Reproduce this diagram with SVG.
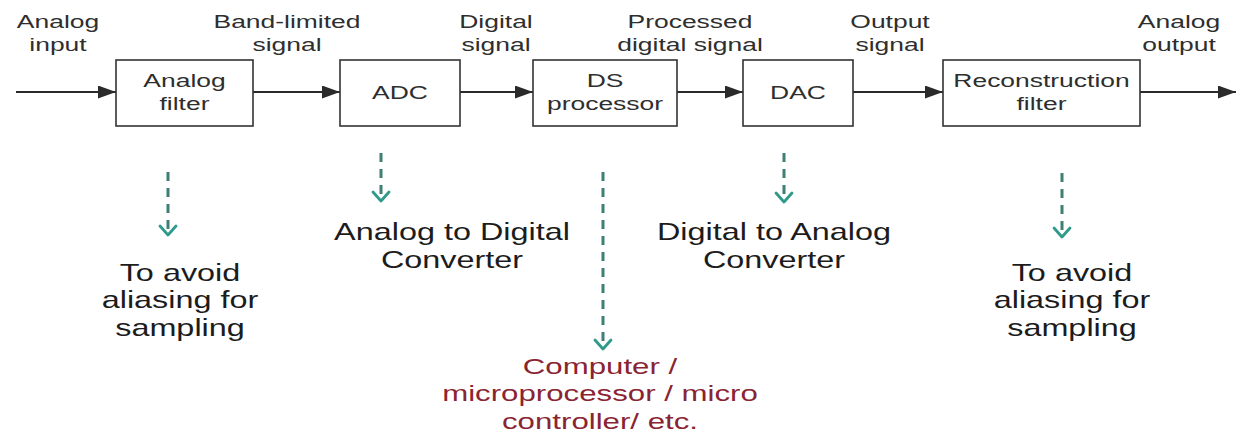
<svg xmlns="http://www.w3.org/2000/svg" width="1238" height="440" viewBox="0 0 1238 440">
<style>
text{font-family:"Liberation Sans",Arial,sans-serif;text-anchor:middle}
.lbl{font-size:18.5px;fill:#2e2e2e}
.big{font-size:24px;fill:#1c1c1c}
.red{font-size:22px;fill:#8a2432}
.box{fill:#fff;stroke:#333;stroke-width:1.6}
.flow{stroke:#2a2a2a;stroke-width:2;fill:none;marker-end:url(#tri)}
.dash{stroke:#3f7f74;stroke-width:3;fill:none;stroke-dasharray:9 7}
.chev{stroke:#2f9a8a;stroke-width:2.8;fill:none;stroke-linecap:round;stroke-linejoin:round}
</style>
<defs>
<marker id="tri" markerUnits="userSpaceOnUse" markerWidth="20" markerHeight="14" refX="18" refY="6.5" orient="auto">
<path d="M0 0 L18 6.5 L0 13 Z" fill="#2a2a2a"/>
</marker>
</defs>
<rect width="1238" height="440" fill="#fff"/>

<g id="connectors">
<line class="flow" x1="16" y1="92" x2="116" y2="92"/>
<line class="flow" x1="253" y1="92" x2="340" y2="92"/>
<line class="flow" x1="460" y1="92" x2="533" y2="92"/>
<line class="flow" x1="677" y1="92" x2="743" y2="92"/>
<line class="flow" x1="853" y1="92" x2="943" y2="92"/>
<line class="flow" x1="1140" y1="92" x2="1236" y2="92"/>
<line class="dash" x1="168" y1="172" x2="168" y2="232"/>
<path class="chev" d="M160 226 L168 235 L176 226"/>
<line class="dash" x1="381" y1="153" x2="381" y2="198"/>
<path class="chev" d="M373 192 L381 201 L389 192"/>
<line class="dash" x1="603" y1="172" x2="603" y2="346"/>
<path class="chev" d="M595 340 L603 349 L611 340"/>
<line class="dash" x1="784" y1="153" x2="784" y2="199"/>
<path class="chev" d="M776 193 L784 202 L792 193"/>
<line class="dash" x1="1062" y1="173" x2="1062" y2="234"/>
<path class="chev" d="M1054 228 L1062 237 L1070 228"/>
</g>

<g id="labels-top">
<text class="lbl" transform="translate(58,28) scale(1.43,1)">Analog<tspan x="0" dy="23">input</tspan></text>
<text class="lbl" transform="translate(287,28) scale(1.43,1)">Band-limited<tspan x="0" dy="23">signal</tspan></text>
<text class="lbl" transform="translate(496,28) scale(1.43,1)">Digital<tspan x="0" dy="23">signal</tspan></text>
<text class="lbl" transform="translate(690,28) scale(1.43,1)">Processed<tspan x="0" dy="23">digital signal</tspan></text>
<text class="lbl" transform="translate(890,28) scale(1.43,1)">Output<tspan x="0" dy="23">signal</tspan></text>
<text class="lbl" transform="translate(1179,28) scale(1.43,1)">Analog<tspan x="0" dy="23">output</tspan></text>
</g>

<g id="node-analog-filter">
<rect class="box" x="116" y="60" width="137" height="66"/>
<text class="lbl" transform="translate(184.5,87) scale(1.43,1)">Analog<tspan x="0" dy="23">filter</tspan></text>
</g>
<g id="node-adc">
<rect class="box" x="340" y="60" width="120" height="66"/>
<text class="lbl" transform="translate(400,99) scale(1.43,1)">ADC</text>
</g>
<g id="node-ds">
<rect class="box" x="533" y="60" width="144" height="66"/>
<text class="lbl" transform="translate(605,87) scale(1.43,1)">DS<tspan x="0" dy="23">processor</tspan></text>
</g>
<g id="node-dac">
<rect class="box" x="743" y="60" width="110" height="66"/>
<text class="lbl" transform="translate(798,99) scale(1.43,1)">DAC</text>
</g>
<g id="node-recon">
<rect class="box" x="943" y="60" width="197" height="66"/>
<text class="lbl" transform="translate(1041.5,87) scale(1.43,1)">Reconstruction<tspan x="0" dy="23">filter</tspan></text>
</g>

<g id="notes">
<text class="big" transform="translate(180,281) scale(1.35,1)">To avoid<tspan x="0" dy="27.5">aliasing for</tspan><tspan x="0" dy="27.5">sampling</tspan></text>
<text class="big" transform="translate(452,240) scale(1.35,1)">Analog to Digital<tspan x="0" dy="28">Converter</tspan></text>
<text class="big" transform="translate(774,240) scale(1.35,1)">Digital to Analog<tspan x="0" dy="28">Converter</tspan></text>
<text class="big" transform="translate(1072,281) scale(1.35,1)">To avoid<tspan x="0" dy="27.5">aliasing for</tspan><tspan x="0" dy="27.5">sampling</tspan></text>
<text class="red" transform="translate(600,374) scale(1.42,1)">Computer /<tspan x="0" dy="27.5">microprocessor / micro</tspan><tspan x="0" dy="27.5">controller/ etc.</tspan></text>
</g>
</svg>
